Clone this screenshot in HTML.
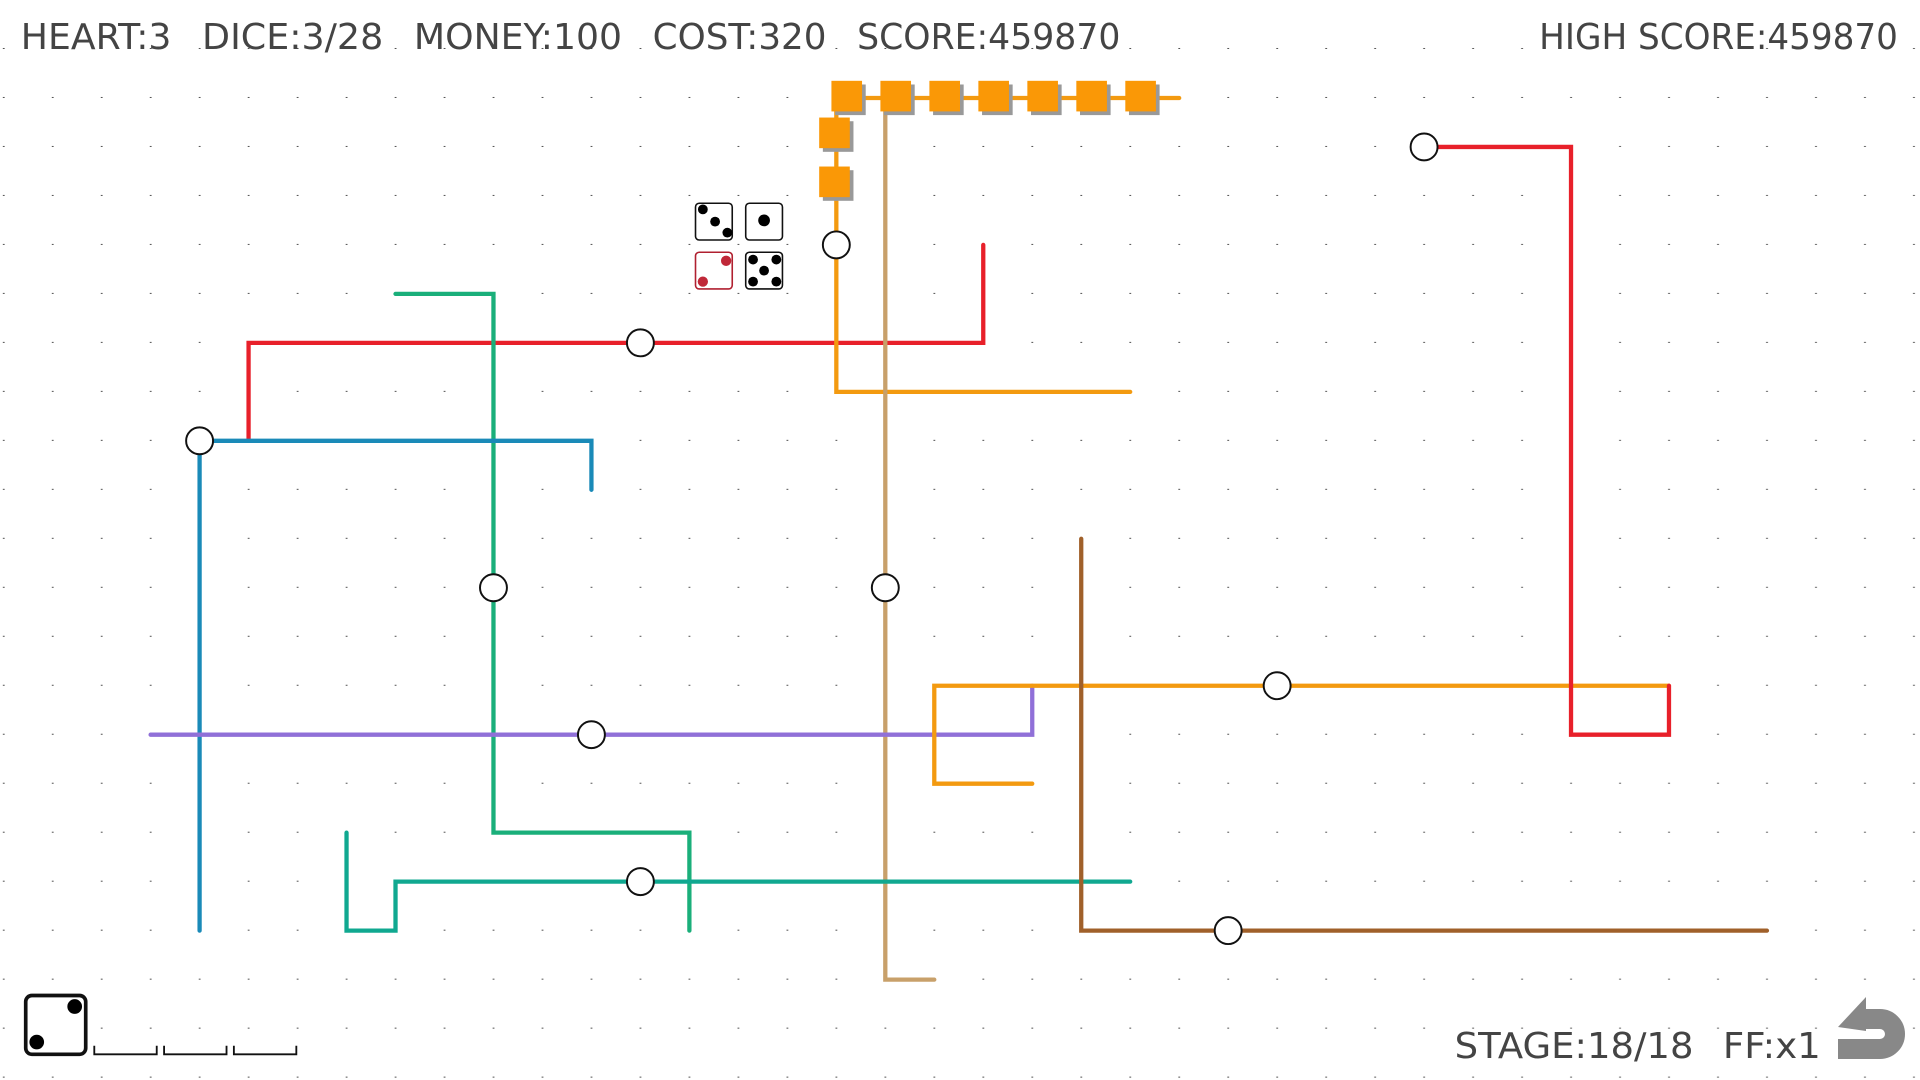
<!DOCTYPE html>
<html><head><meta charset="utf-8"><style>
html,body{margin:0;padding:0;background:#fff;width:1920px;height:1080px;overflow:hidden}
svg{display:block}
text{font-family:"DejaVu Sans","Liberation Sans",sans-serif;fill:#444;font-size:29px}
</style></head><body>
<svg width="1920" height="1080" viewBox="0 0 1568 882" xmlns="http://www.w3.org/2000/svg">
<defs>
<pattern id="g" x="0" y="0" width="40" height="40" patternUnits="userSpaceOnUse">
<rect x="2.3" y="39.3" width="1.5" height="1.5" fill="#333"/>
</pattern>
</defs>
<rect width="1568" height="882" fill="url(#g)"/>
<g fill="none" stroke-width="3.5" stroke-linecap="round" stroke-linejoin="miter">
<polyline stroke="#e8202a" points="203,360 203,280 803,280 803,200"/>
<polyline stroke="#1aaf7a" points="323,240 403,240 403,680 563,680 563,760"/>
<polyline stroke="#1a8ab8" points="163,760 163,360 483,360 483,400"/>
<polyline stroke="#f39a10" points="963,80 683,80 683,320 923,320"/>
<polyline stroke="#c8a06a" points="723,80 723,800 763,800"/>
<polyline stroke="#9070d8" points="123,600 843,600 843,560"/>
<polyline stroke="#f39a10" points="843,640 763,640 763,560 1363,560"/>
<polyline stroke="#e8202a" points="1163,120 1283,120 1283,600 1363,600 1363,560"/>
<polyline stroke="#10a890" points="283,680 283,760 323,760 323,720 923,720"/>
<polyline stroke="#a0602a" points="883,440 883,760 1443,760"/>
</g>
<g>
<g fill="#999">
<rect x="682" y="69" width="25" height="25"/><rect x="722" y="69" width="25" height="25"/><rect x="762" y="69" width="25" height="25"/><rect x="802" y="69" width="25" height="25"/><rect x="842" y="69" width="25" height="25"/><rect x="882" y="69" width="25" height="25"/><rect x="922" y="69" width="25" height="25"/>
<rect x="672" y="99" width="25" height="25"/><rect x="672" y="139" width="25" height="25"/>
</g>
<g fill="#fa9806">
<rect x="679" y="66" width="25" height="25"/><rect x="719" y="66" width="25" height="25"/><rect x="759" y="66" width="25" height="25"/><rect x="799" y="66" width="25" height="25"/><rect x="839" y="66" width="25" height="25"/><rect x="879" y="66" width="25" height="25"/><rect x="919" y="66" width="25" height="25"/>
<rect x="669" y="96" width="25" height="25"/><rect x="669" y="136" width="25" height="25"/>
</g>
</g>
<g fill="#fff" stroke="#111" stroke-width="1.6">
<circle cx="683" cy="200" r="11"/><circle cx="523" cy="280" r="11"/><circle cx="163" cy="360" r="11"/>
<circle cx="403" cy="480" r="11"/><circle cx="723" cy="480" r="11"/><circle cx="1043" cy="560" r="11"/>
<circle cx="483" cy="600" r="11"/><circle cx="523" cy="720" r="11"/><circle cx="1003" cy="760" r="11"/>
<circle cx="1163" cy="120" r="11"/>
</g>
<g stroke-width="1.3" fill="#fff">
<rect x="568" y="166" width="30" height="30" rx="3" stroke="#111"/>
<rect x="609" y="166" width="30" height="30" rx="3" stroke="#111"/>
<rect x="568" y="206" width="30" height="30" rx="3" stroke="#b02030"/>
<rect x="609" y="206" width="30" height="30" rx="3" stroke="#111"/>
</g>
<g fill="#000">
<circle cx="574" cy="171" r="4"/><circle cx="584" cy="181" r="4"/><circle cx="594" cy="190" r="4"/>
<circle cx="624" cy="180" r="4.8"/>
<circle cx="615" cy="212" r="4"/><circle cx="634" cy="212" r="4"/><circle cx="624" cy="221" r="4"/><circle cx="615" cy="230" r="4"/><circle cx="634" cy="230" r="4"/>
</g>
<g fill="#c02838"><circle cx="593" cy="213" r="4.2"/><circle cx="574" cy="230" r="4.2"/></g>
<rect x="21" y="813" width="49" height="48" rx="5" fill="#fff" stroke="#111" stroke-width="3"/>
<circle cx="61" cy="822" r="6" fill="#000"/><circle cx="30" cy="851" r="6" fill="#000"/>
<g stroke="#111" stroke-width="1.5" fill="none">
<polyline points="77,854 77,861 128,861 128,854"/>
<polyline points="134,854 134,861 185,861 185,854"/>
<polyline points="191,854 191,861 242,861 242,854"/>
</g>
<text x="17" y="40" textLength="123" lengthAdjust="spacingAndGlyphs">HEART:3</text>
<text x="165" y="40" textLength="148" lengthAdjust="spacingAndGlyphs">DICE:3/28</text>
<text x="338" y="40" textLength="170" lengthAdjust="spacingAndGlyphs">MONEY:100</text>
<text x="533" y="40" textLength="142" lengthAdjust="spacingAndGlyphs">COST:320</text>
<text x="700" y="40" textLength="215" lengthAdjust="spacingAndGlyphs">SCORE:459870</text>
<text x="1257" y="40" textLength="293" lengthAdjust="spacingAndGlyphs">HIGH SCORE:459870</text>
<text x="1188" y="864" textLength="195" lengthAdjust="spacingAndGlyphs">STAGE:18/18</text>
<text x="1407" y="864" textLength="80" lengthAdjust="spacingAndGlyphs">FF:x1</text>
<g transform="scale(0.81667)" fill="#888">
<path d="M1860,1019 L1880,1019 A15,15 0 0 1 1880,1049 L1838,1049" fill="none" stroke="#888" stroke-width="20"/>
<polygon points="1838,1027 1866,997 1866,1031"/>
</g>
</svg>
</body></html>
